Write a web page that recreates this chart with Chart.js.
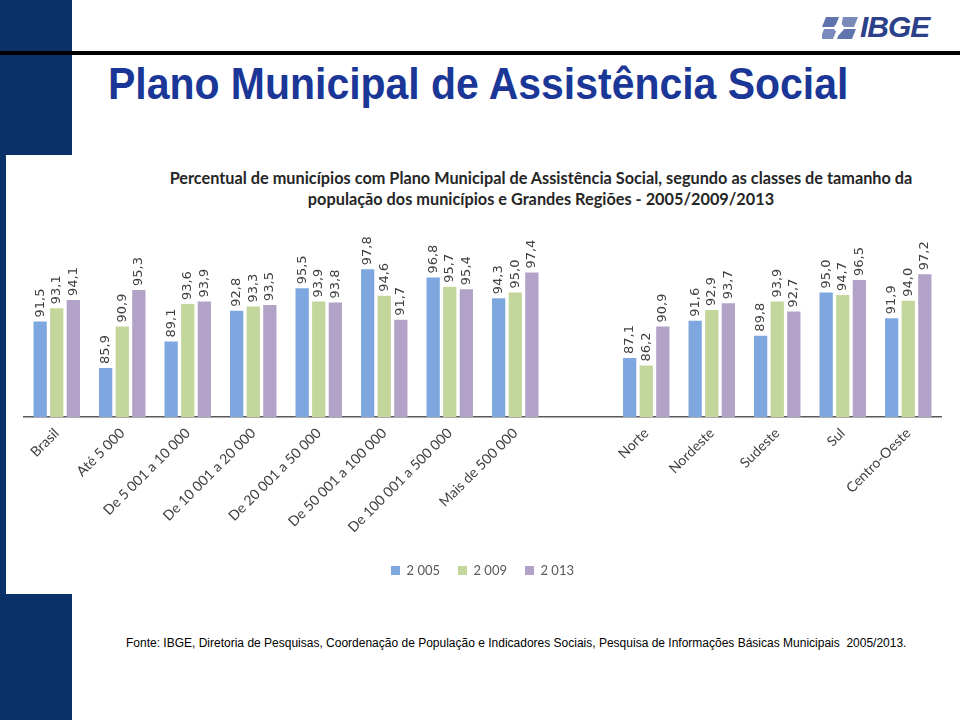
<!DOCTYPE html>
<html>
<head>
<meta charset="utf-8">
<script src="https://cdn.jsdelivr.net/npm/chart.js@4.4.1/dist/chart.umd.min.js"></script>
<style>
  html, body { margin: 0; padding: 0; background: #ffffff; }
  body { width: 960px; height: 720px; position: relative; overflow: hidden; }
  .navy { position: absolute; background: #0b3169; }
  #rule { position: absolute; left: 0; top: 51px; width: 960px; height: 4px; background: #000; }
  #pageTitle { position: absolute; left: 108px; top: 61px; font-family: "Liberation Sans", Arial, sans-serif; font-weight: bold; font-size: 45px; line-height: 45px; color: #1a3797; white-space: nowrap; transform: scaleX(0.91); transform-origin: 0 0; }
  #chartTitle { position: absolute; left: 91px; width: 900px; top: 167px; text-align: center; font-family: Lato, "Open Sans", sans-serif; font-weight: bold; font-size: 16.3px; line-height: 21px; color: #262626; }
  #footer { position: absolute; left: 126px; top: 636px; font-family: "Liberation Sans", Arial, sans-serif; font-size: 12px; line-height: 14px; color: #000; white-space: pre; }
  #logoText { position: absolute; left: 860px; top: 11px; font-family: "Liberation Sans", Arial, sans-serif; font-weight: bold; font-style: italic; font-size: 30px; line-height: 32px; color: #2d418a; letter-spacing: -1px; }
  #logoIcon { position: absolute; left: 822px; top: 16px; }
  #chartBox { position: absolute; left: 6px; top: 155px; width: 940px; height: 440px; }
</style>
</head>
<body>
<div class="navy" style="left:0;top:0;width:72px;height:155px;"></div>
<div class="navy" style="left:0;top:155px;width:6px;height:439px;"></div>
<div class="navy" style="left:0;top:594px;width:72px;height:126px;"></div>
<div id="rule"></div>
<svg id="logoIcon" width="38" height="24" viewBox="0 0 38 24">
  <polygon points="4,1 17,1 13,11 0,11" fill="#5f73ad"/>
  <polygon points="21,1 36,1 32,11 19,11" fill="#7a8abb"/>
  <polygon points="2,13 15,13 11,23 -2,23" fill="#7a8abb"/>
  <polygon points="19,13 34,13 30,23 15,23" fill="#5f73ad"/>
  <polygon points="17,5 23,12 17,19 11,12" fill="#ffffff"/>
</svg>
<div id="logoText">IBGE</div>
<div id="pageTitle">Plano Municipal de Assistência Social</div>
<div id="chartTitle">Percentual de municípios com Plano Municipal de Assistência Social, segundo as classes de tamanho da<br>população dos municípios e Grandes Regiões - 2005/2009/2013</div>
<div id="chartBox"><canvas id="c" width="940" height="440"></canvas></div>
<div id="footer">Fonte: IBGE, Diretoria de Pesquisas, Coordenação de População e Indicadores Sociais, Pesquisa de Informações Básicas Municipais  2005/2013.</div>
<script>
const categories = ["Brasil", "Até 5 000", "De 5 001 a 10 000", "De 10 001 a 20 000", "De 20 001 a 50 000", "De 50 001 a 100 000", "De 100 001 a 500 000", "Mais de 500 000", "", "Norte", "Nordeste", "Sudeste", "Sul", "Centro-Oeste"];
const seriesNames = ["2 005", "2 009", "2 013"];
const values2005 = [91.5, 85.9, 89.1, 92.8, 95.5, 97.8, 96.8, 94.3, null, 87.1, 91.6, 89.8, 95.0, 91.9];
const values2009 = [93.1, 90.9, 93.6, 93.3, 93.9, 94.6, 95.7, 95.0, null, 86.2, 92.9, 93.9, 94.7, 94.0];
const values2013 = [94.1, 95.3, 93.9, 93.5, 93.8, 91.7, 95.4, 97.4, null, 90.9, 93.7, 92.7, 96.5, 97.2];
const colors = ["#7ea7df", "#c3d69b", "#b3a2c7"];

const valueLabels = {
  id: "valueLabels",
  afterDatasetsDraw(chart) {
    const ctx = chart.ctx;
    ctx.save();
    ctx.font = "13px 'DejaVu Sans', sans-serif";
    ctx.fillStyle = "#404040";
    ctx.textAlign = "left";
    ctx.textBaseline = "middle";
    chart.data.datasets.forEach((ds, i) => {
      const meta = chart.getDatasetMeta(i);
      meta.data.forEach((el, j) => {
        const v = ds.data[j];
        if (v === null || v === undefined) return;
        ctx.save();
        ctx.translate(el.x, el.y - 4);
        ctx.rotate(-Math.PI / 2);
        ctx.fillText(v.toFixed(1).replace(".", ","), 0, 0);
        ctx.restore();
      });
    });
    ctx.restore();
  }
};

new Chart(document.getElementById("c"), {
  type: "bar",
  data: {
    labels: categories,
    datasets: [
      { label: seriesNames[0], data: values2005, backgroundColor: colors[0] },
      { label: seriesNames[1], data: values2009, backgroundColor: colors[1] },
      { label: seriesNames[2], data: values2013, backgroundColor: colors[2] }
    ]
  },
  options: {
    responsive: false,
    animation: false,
    devicePixelRatio: 1,
    layout: { padding: { top: 96, left: 18, right: 5, bottom: 8 } },
    datasets: { bar: { categoryPercentage: 0.76, barPercentage: 0.8 } },
    scales: {
      x: {
        grid: { display: false, drawTicks: false },
        border: { display: true, color: "#595959", width: 1.5 },
        afterFit(scale) { scale.height += 2; },
        ticks: {
          minRotation: 45, maxRotation: 45, autoSkip: false, padding: 8,
          color: "#404040", font: { family: "Lato, 'Open Sans', sans-serif", size: 14 }
        }
      },
      y: { display: false, min: 80, max: 100 }
    },
    plugins: {
      legend: {
        position: "bottom",
        labels: {
          boxWidth: 9, boxHeight: 9, padding: 18, color: "#595959",
          font: { family: "Lato, 'Open Sans', sans-serif", size: 13 }
        }
      },
      tooltip: { enabled: false },
      title: { display: false }
    }
  },
  plugins: [valueLabels]
});
</script>
</body>
</html>
